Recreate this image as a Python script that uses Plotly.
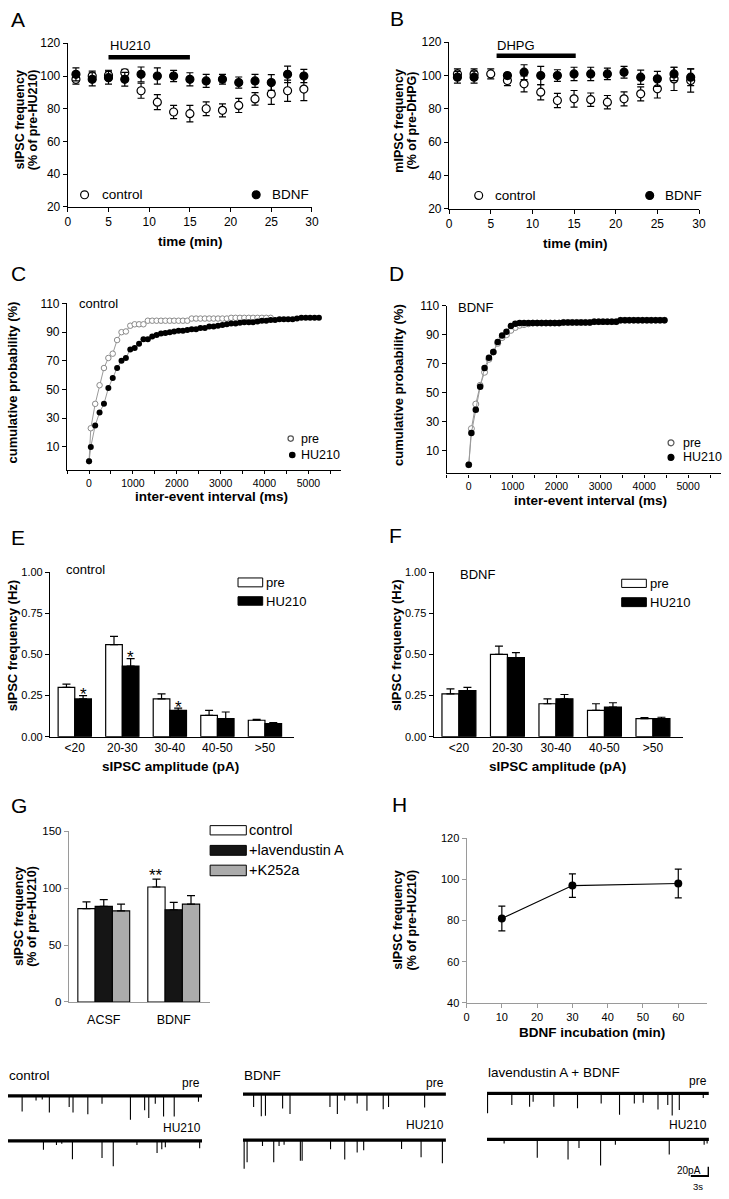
import plotly.graph_objects as go

W, H = 729, 1199
FONT = "Liberation Sans, Arial, Helvetica, sans-serif"

# ---------------- data ----------------
# A / B : time course
time_min = [1, 3, 5, 7, 9, 11, 13, 15, 17, 19, 21, 23, 25, 27, 29]
a_control = [98, 100, 100.5, 102, 91, 84, 78, 77, 80, 79, 82, 86, 89, 91, 92]
a_control_sem = [3, 3, 3, 2, 4.6, 4.6, 4, 5, 4.2, 4, 4.3, 3.8, 6.3, 6.5, 7]
a_bdnf = [101, 98, 99, 98, 101, 100, 100, 98, 97, 98, 96, 97, 96, 101, 100]
a_bdnf_sem = [4, 4, 4, 4.2, 4.5, 5, 3.4, 4, 4, 3, 3.4, 4, 4.8, 5, 4]
hu210_period_min = [5, 15]

b_control = [101, 101, 101, 97, 95, 90, 85, 86, 85.5, 84, 86, 89, 92, 98, 97]
b_control_sem = [3, 3, 3, 3, 4.8, 4.6, 4.3, 5, 4, 4, 4.2, 4.2, 5.5, 7, 7]
b_bdnf = [99, 99, None, 100, 102, 100, 100, 101, 101, 101, 102, 99, 98, 101, 99]
b_bdnf_sem = [3.5, 3.6, 0, 1.5, 4.5, 5.5, 3.5, 4, 4, 3.5, 3.5, 4.3, 4.5, 4, 5]
dhpg_period_min = [5.7, 15.2]

# C : cumulative probability, control slices
c_pre_ms = [0, 40, 140, 240, 340, 440, 540, 640, 740, 840, 940, 1040, 1140, 1240,
            1340, 1440, 1540, 1640, 1740, 1840, 1940, 2040, 2140, 2240,
            2340, 2440, 2540, 2640, 2740, 2840, 2940, 3040, 3140,
            3240, 3340, 3440, 3540, 3640, 3740, 3840, 3940, 4040, 4140]
c_pre = [0, 23, 40, 53, 65, 72, 75, 84.5, 90, 90.5, 94.5, 95.5, 95.5, 95.5,
         98, 98, 98, 98, 98, 98, 98, 98, 98, 98,
         99.5, 99.5, 99.5, 99.5, 99.5, 99.5, 99.5, 99.5, 99.5,
         100, 100, 100, 100, 100, 100, 100, 100, 100, 100]
c_hu_ms = [0, 40, 140, 240, 340, 440, 540, 640, 740, 840, 940, 1040, 1140, 1240,
           1340, 1440, 1540, 1640, 1740, 1840, 1940, 2040, 2140, 2240, 2340,
           2440, 2540, 2640, 2740, 2840, 2940, 3040, 3140, 3240, 3340, 3440,
           3540, 3640, 3740, 3840, 3940, 4040, 4140, 4240, 4340, 4440, 4540,
           4640, 4740, 4840, 4940, 5040, 5140, 5240]
c_hu = [0, 10, 25, 34, 40, 51, 58, 65, 70, 72, 78, 79, 82, 85,
        85, 87, 88, 89, 89.5, 90, 90.5, 91, 91, 91.5, 92,
        92, 93, 93, 94, 94, 94.5, 95, 95.5, 96, 96, 96.5,
        97, 97, 97, 97.5, 98, 98, 98.5, 98.5, 99, 99, 99,
        99, 99.5, 100, 100, 100, 100, 100]

# D : cumulative probability, BDNF slices
d_ms = [0, 60, 160, 260, 360, 460, 560, 660, 760, 860, 960, 1060, 1160,
        1260, 1360, 1460, 1560, 1660, 1760, 1860, 1960, 2060,
        2160, 2260, 2360, 2460, 2560, 2660, 2760,
        2860, 2960, 3060, 3160, 3260, 3360,
        3460, 3560, 3660, 3760, 3860, 3960, 4060, 4160, 4260, 4360, 4460]
d_pre = [0, 25, 42, 55, 64, 73, 78, 84, 88, 90, 93, 95, 96.5,
         97, 97.5, 98, 98, 98, 98, 98, 98, 98,
         98.5, 98.5, 98.5, 98.5, 98.5, 98.5, 98.5,
         99, 99, 99, 99, 99, 99,
         100, 100, 100, 100, 100, 100, 100, 100, 100, 100, 100]
d_hu = [0, 22, 38, 54, 67, 74, 78, 85, 89.5, 92, 96, 97.5, 98,
        98, 98, 98, 98, 98, 98, 98, 98, 98,
        98.5, 98.5, 98.5, 98.5, 98.5, 98.5, 98.5,
        99, 99, 99, 99, 99, 99,
        100, 100, 100, 100, 100, 100, 100, 100, 100, 100, 100]

# E / F : amplitude distribution
amp_bins = ["<20", "20-30", "30-40", "40-50", ">50"]
e_pre = [0.30, 0.56, 0.23, 0.13, 0.10]
e_pre_sem = [0.02, 0.05, 0.03, 0.03, 0.006]
e_hu = [0.23, 0.43, 0.16, 0.11, 0.08]
e_hu_sem = [0.02, 0.045, 0.014, 0.04, 0.006]
e_signif = ["<20", "20-30", "30-40"]

f_pre = [0.26, 0.50, 0.20, 0.16, 0.11]
f_pre_sem = [0.03, 0.05, 0.03, 0.04, 0.006]
f_hu = [0.28, 0.48, 0.23, 0.18, 0.11]
f_hu_sem = [0.02, 0.03, 0.026, 0.026, 0.008]

# G : inhibitors
g_groups = ["ACSF", "BDNF"]
g_control = [82, 101]
g_control_sem = [6, 7]
g_lav = [84, 81]
g_lav_sem = [6, 6.5]
g_k252a = [80, 86]
g_k252a_sem = [6, 7.5]

# H : incubation time
h_incubation_min = [10, 30, 60]
h_freq = [81, 97, 98]
h_sem = [6, 5.7, 7]

# example recordings: event times (s) and amplitudes (pA)
rec_duration_s = {"control": 32.8, "BDNF": 34.3, "lav": 37.5}
ctrl_pre_t = [2.4, 4.75, 5.8, 7.0, 10.35, 11.0, 13.5, 15.9, 20.7, 23.1, 23.8, 24.9, 26.3, 28.1, 32.2]
ctrl_pre_amp = [34, 10, 8, 36, 24, 36, 40, 17, 52, 31, 48, 17, 45, 45, 13]
ctrl_hu_t = [6.0, 8.2, 9.1, 10.9, 15.9, 17.8, 21.8, 25.2, 26.0, 26.6, 32.4]
ctrl_hu_amp = [19, 9, 6, 40, 37, 55, 9, 26, 18, 14, 16]
bdnf_pre_t = [1.8, 3.1, 3.8, 6.7, 7.95, 14.7, 15.95, 17.2, 19.3, 20.95, 23.7, 24.6, 30.7]
bdnf_pre_amp = [28, 48, 47, 31, 43, 28, 43, 14, 20, 36, 33, 28, 29]
bdnf_hu_t = [0.2, 0.7, 3.3, 5.2, 6.1, 6.95, 9.7, 10.0, 14.8, 17.2, 19.3, 20.4, 26.8, 30.1, 33.7]
bdnf_hu_amp = [62, 48, 13, 48, 13, 10, 45, 45, 20, 42, 27, 22, 19, 37, 50]
lav_pre_t = [0.1, 4.2, 7.2, 7.8, 11.3, 15.3, 19.3, 22.4, 24.9, 26.4, 28.9, 30.55, 31.3, 32.5, 36.55]
lav_pre_amp = [43, 25, 29, 18, 29, 32, 22, 46, 22, 20, 35, 25, 48, 36, 10]
lav_hu_t = [2.9, 8.5, 13.7, 15.55, 19.2, 21.7, 30.8, 36.7, 37.2]
lav_hu_amp = [9, 40, 44, 19, 57, 12, 33, 12, 9]
scale_pA = 20
scale_s = 3

# ---------------- helpers ----------------
def dom_x(a, b):
    return [a / W, b / W]


def dom_y(top, bot):
    return [1 - bot / H, 1 - top / H]


def axis(dom, rng, anchor, color="black", lw=1.3, ticklen=4, tickfont=12, **kw):
    d = dict(domain=dom, range=rng, anchor=anchor, showline=True, linecolor=color,
             linewidth=lw, ticks="outside", ticklen=ticklen, tickwidth=lw, tickcolor=color,
             tickfont=dict(family=FONT, size=tickfont, color="black"), showgrid=False,
             zeroline=False, fixedrange=True)
    d.update(kw)
    return d


annotations = []
shapes = []


def txt(s, x, y, size=13, bold=False, xanchor="center", yanchor="middle", angle=0):
    annotations.append(dict(text=f"<b>{s}</b>" if bold else s, x=x / W, y=1 - y / H,
                            xref="paper", yref="paper", showarrow=False, xanchor=xanchor,
                            yanchor=yanchor, textangle=angle, borderpad=0,
                            font=dict(family=FONT, size=size, color="black")))


def circle(cx, cy, d, fill, line="black", lw=1.2):
    shapes.append(dict(type="circle", xref="paper", yref="paper",
                       x0=(cx - d / 2) / W, x1=(cx + d / 2) / W,
                       y0=1 - (cy + d / 2) / H, y1=1 - (cy - d / 2) / H,
                       fillcolor=fill, line=dict(color=line, width=lw)))


def rect(x0, x1, y0, y1, fill):
    shapes.append(dict(type="rect", xref="paper", yref="paper", x0=x0 / W, x1=x1 / W,
                       y0=1 - y1 / H, y1=1 - y0 / H, fillcolor=fill,
                       line=dict(color="black", width=1)))


fig = go.Figure()
layout = {}


def err(arr, up_only=False, width=3.5):
    d = dict(type="data", array=arr, color="black", thickness=1.2, width=width, visible=True)
    if up_only:
        d.update(symmetric=False, arrayminus=[0] * len(arr))
    return d


# ---------------- A ----------------
for ys, es, fill in [(a_control, a_control_sem, "white"), (a_bdnf, a_bdnf_sem, "black")]:
    fig.add_trace(go.Scatter(x=time_min, y=ys, mode="markers", xaxis="x", yaxis="y",
                             error_y=err(es),
                             marker=dict(size=8, color=fill, line=dict(color="black", width=1.2))))
layout["xaxis"] = axis(dom_x(65.7, 313.3), [0, 30], "y", tickvals=[0, 5, 10, 15, 20, 25, 30])
layout["yaxis"] = axis(dom_y(36.7, 202.3), [20, 120], "x", tickvals=[20, 40, 60, 80, 100, 120])
shapes.append(dict(type="line", xref="x", yref="y", x0=hu210_period_min[0], x1=hu210_period_min[1],
                   y0=111.5, y1=111.5, line=dict(color="black", width=4.5)))
annotations.append(dict(text="HU210", x=hu210_period_min[0], y=118.6, xref="x", yref="y",
                        showarrow=False, xanchor="left", yanchor="middle",
                        font=dict(family=FONT, size=13, color="black")))

# ---------------- B ----------------
for ys, es, fill in [(b_control, b_control_sem, "white"), (b_bdnf, b_bdnf_sem, "black")]:
    fig.add_trace(go.Scatter(x=time_min, y=ys, mode="markers", xaxis="x2", yaxis="y2",
                             error_y=err(es),
                             marker=dict(size=8, color=fill, line=dict(color="black", width=1.2))))
layout["xaxis2"] = axis(dom_x(452.3, 705.7), [0, 30], "y2", tickvals=[0, 5, 10, 15, 20, 25, 30])
layout["yaxis2"] = axis(dom_y(35.7, 204), [20, 120], "x2", tickvals=[20, 40, 60, 80, 100, 120])
shapes.append(dict(type="line", xref="x2", yref="y2", x0=dhpg_period_min[0], x1=dhpg_period_min[1],
                   y0=111.9, y1=111.9, line=dict(color="black", width=4.5)))
annotations.append(dict(text="DHPG", x=5.5, y=118, xref="x2", yref="y2",
                        showarrow=False, xanchor="left", yanchor="middle",
                        font=dict(family=FONT, size=13, color="black")))

# ---------------- C / D ----------------
cum_ticks = [-500, 0, 500, 1000, 1500, 2000, 2500, 3000, 3500, 4000, 4500, 5000, 5500]
cum_text = ["", "0", "", "1000", "", "2000", "", "3000", "", "4000", "", "5000", ""]
for (xa, ya, xp, yp, xh, yh, s_open, s_fill) in [
        ("x3", "y3", c_pre_ms, c_pre, c_hu_ms, c_hu, 5.5, 6),
        ("x4", "y4", d_ms, d_pre, d_ms, d_hu, 6, 6.5)]:
    fig.add_trace(go.Scatter(x=xp, y=yp, mode="lines+markers", xaxis=xa, yaxis=ya,
                             line=dict(color="#9a9a9a", width=1),
                             marker=dict(size=s_open, color="white", line=dict(color="#8a8a8a", width=1))))
    fig.add_trace(go.Scatter(x=xh, y=yh, mode="lines+markers", xaxis=xa, yaxis=ya,
                             line=dict(color="#9a9a9a", width=1),
                             marker=dict(size=s_fill, color="black", line=dict(width=0))))
layout["xaxis3"] = axis(dom_x(65, 343), [-500, 5750], "y3", ticklen=3, tickfont=10.5,
                        tickvals=cum_ticks, ticktext=cum_text)
layout["yaxis3"] = axis(dom_y(300, 468.3), [-6, 110], "x3", tickvals=[10, 30, 50, 70, 90, 110])
layout["xaxis4"] = axis(dom_x(450, 728), [-500, 5750], "y4", ticklen=3, tickfont=10.5,
                        tickvals=cum_ticks, ticktext=cum_text)
layout["yaxis4"] = axis(dom_y(302.3, 472), [-6, 110], "x4", tickvals=[10, 30, 50, 70, 90, 110])

# ---------------- E / F ----------------
BW = 0.35
for (xa, ya, pre, pre_s, hu, hu_s) in [("x5", "y5", e_pre, e_pre_sem, e_hu, e_hu_sem),
                                        ("x6", "y6", f_pre, f_pre_sem, f_hu, f_hu_sem)]:
    fig.add_trace(go.Bar(x=amp_bins, y=pre, xaxis=xa, yaxis=ya, width=BW, offset=-BW,
                         marker=dict(color="white", line=dict(color="black", width=1.2)),
                         error_y=err(pre_s, up_only=True, width=4)))
    fig.add_trace(go.Bar(x=amp_bins, y=hu, xaxis=xa, yaxis=ya, width=BW, offset=0,
                         marker=dict(color="black", line=dict(color="black", width=1.2)),
                         error_y=err(hu_s, up_only=True, width=4)))
for k, (xd, yd) in enumerate([((47.7, 295), (572, 738.3)), ((436.7, 689), (571.7, 738.3))]):
    n = 5 + k
    layout[f"xaxis{n}"] = axis(dom_x(*xd), [-0.52, 4.61], f"y{n}", ticks="", tickfont=12,
                               type="category", categoryorder="array", categoryarray=amp_bins)
    layout[f"yaxis{n}"] = axis(dom_y(*yd), [0, 1.0], f"x{n}", tickfont=11,
                               tickvals=[0, 0.25, 0.5, 0.75, 1.0], tickformat=".2f")
for b in e_signif:
    i = amp_bins.index(b)
    annotations.append(dict(text="*", x=b, y=e_hu[i] + e_hu_sem[i], xref="x5", yref="y5",
                            showarrow=False, xanchor="center", yanchor="middle",
                            xshift=8.5, yshift=1, font=dict(family=FONT, size=17, color="black")))

# ---------------- G ----------------
GW = 0.247
for ys, es, col, off in [(g_control, g_control_sem, "white", -1.5 * GW),
                         (g_lav, g_lav_sem, "#151515", -0.5 * GW),
                         (g_k252a, g_k252a_sem, "#ababab", 0.5 * GW)]:
    fig.add_trace(go.Bar(x=g_groups, y=ys, xaxis="x7", yaxis="y7", width=GW, offset=off,
                         marker=dict(color=col, line=dict(color="black", width=1.1)),
                         error_y=err(es, up_only=True, width=4)))
layout["xaxis7"] = axis(dom_x(66.7, 210), [-0.5, 1.52], "y7", color="#9a9a9a", lw=1, ticks="",
                        tickfont=12.5, type="category", categoryorder="array",
                        categoryarray=g_groups, ticklabelstandoff=6)
layout["yaxis7"] = axis(dom_y(834, 1006.7), [0, 150], "x7", color="#9a9a9a", lw=1, tickfont=11.5,
                        tickvals=[0, 50, 100, 150])
annotations.append(dict(text="**", x="BDNF", y=g_control[1] + g_control_sem[1], xref="x7",
                        yref="y7", showarrow=False, xanchor="center", yanchor="middle",
                        xshift=-17.5, yshift=4, font=dict(family=FONT, size=17, color="black")))

# ---------------- H ----------------
fig.add_trace(go.Scatter(x=h_incubation_min, y=h_freq, mode="lines+markers", xaxis="x8", yaxis="y8",
                         line=dict(color="black", width=1.2), error_y=err(h_sem),
                         marker=dict(size=8, color="black")))
layout["xaxis8"] = axis(dom_x(470, 714), [0, 68.2], "y8", color="#9a9a9a", lw=1, tickfont=11,
                        tickvals=[0, 10, 20, 30, 40, 50, 60])
layout["yaxis8"] = axis(dom_y(841, 1007.7), [40, 120], "x8", color="#9a9a9a", lw=1, tickfont=11,
                        tickvals=[40, 60, 80, 100, 120])

# ---------------- example traces ----------------
PX_PER_S = 6.0
PX_PER_PA = 9.33 / 20
recs = [
    (ctrl_pre_t, ctrl_pre_amp, rec_duration_s["control"], 5, 1101.7, 70),
    (ctrl_hu_t, ctrl_hu_amp, rec_duration_s["control"], 5, 1147.3, 70),
    (bdnf_pre_t, bdnf_pre_amp, rec_duration_s["BDNF"], 243.3, 1100, 70),
    (bdnf_hu_t, bdnf_hu_amp, rec_duration_s["BDNF"], 243.3, 1146.5, 70),
    (lav_pre_t, lav_pre_amp, rec_duration_s["lav"], 490.7, 1099.3, 70),
    (lav_hu_t, lav_hu_amp, rec_duration_s["lav"], 490.7, 1145.7, 84),
]
for k, (ts, amps, dur, left, base, depth) in enumerate(recs):
    n = 9 + k
    xs, ys = [], []
    for t, a in zip(ts, amps):
        xs += [t, t, None]
        ys += [0, -a, None]
    fig.add_trace(go.Scatter(x=[0, dur], y=[0, 0], mode="lines", xaxis=f"x{n}", yaxis=f"y{n}",
                             line=dict(color="black", width=3.2)))
    fig.add_trace(go.Scatter(x=xs, y=ys, mode="lines", xaxis=f"x{n}", yaxis=f"y{n}",
                             line=dict(color="black", width=1.1), cliponaxis=False))
    layout[f"xaxis{n}"] = dict(domain=dom_x(left, left + dur * PX_PER_S), range=[0, dur],
                               anchor=f"y{n}", visible=False, fixedrange=True)
    layout[f"yaxis{n}"] = dict(domain=dom_y(base - 5 * PX_PER_PA, base + depth * PX_PER_PA),
                               range=[-depth, 5], anchor=f"x{n}", visible=False, fixedrange=True)
# scale bar in the last recording's axes
sb_t, sb_y = rec_duration_s["lav"] - 0.05, -79.3
fig.add_trace(go.Scatter(x=[sb_t - scale_s, sb_t, sb_t], y=[sb_y, sb_y, sb_y + scale_pA],
                         mode="lines", xaxis="x14", yaxis="y14", cliponaxis=False,
                         line=dict(color="black", width=2)))

# ---------------- text ----------------
for s, x, y in [("A", 7, 12.7), ("B", 391, 11.7), ("C", 7, 270), ("D", 390, 270),
                ("E", 7, 537), ("F", 390, 535), ("G", 7, 808), ("H", 393, 807)]:
    txt(s, x, y, size=21, xanchor="left")

# axis titles
txt("time (min)", 190, 237, 13.5, True)
txt("time (min)", 580, 239, 13.5, True)
txt("inter-event interval (ms)", 211, 495, 13.5, True)
txt("inter-event interval (ms)", 596, 499, 13.5, True)
txt("sIPSC amplitude (pA)", 170, 768, 13.5, True)
txt("sIPSC amplitude (pA)", 562, 768, 13.5, True)
txt("BDNF incubation (min)", 597, 1038, 13.5, True)

txt("sIPSC frequency", 17, 114, 12.5, True, angle=-90)
txt("(% of pre-HU210)", 30, 114, 12.5, True, angle=-90)
txt("mIPSC frequency", 401.5, 115, 12.5, True, angle=-90)
txt("(% of pre-DHPG)", 414.5, 115, 12.5, True, angle=-90)
txt("cumulative probability (%)", 10, 380, 13, True, angle=-90)
txt("cumulative probability (%)", 401, 382, 13, True, angle=-90)
txt("sIPSC frequency (Hz)", 10, 646, 13, True, angle=-90)
txt("sIPSC frequency (Hz)", 399, 646, 13, True, angle=-90)
txt("sIPSC frequency", 16, 920, 12.5, True, angle=-90)
txt("(% of pre-HU210)", 30, 920, 12.5, True, angle=-90)
txt("sIPSC frequency", 401, 924, 12.5, True, angle=-90)
txt("(% of pre-HU210)", 415, 924, 12.5, True, angle=-90)

# pseudo-legends A/B
circle(82.7, 190, 8, "white")
txt("control", 99, 190, 13.5, xanchor="left")
circle(256.7, 190, 8, "black")
txt("BDNF", 272, 190, 13.5, xanchor="left")
circle(482.3, 190.7, 8, "white")
txt("control", 498, 190.7, 13.5, xanchor="left")
circle(655.7, 190.7, 8, "black")
txt("BDNF", 670, 190.7, 13.5, xanchor="left")
# C/D
txt("control", 76, 300, 13, xanchor="left")
circle(291.7, 436.7, 5.5, "white", "#555")
txt("pre", 301, 436.7, 12.5, xanchor="left")
circle(293.3, 453.3, 5.5, "black")
txt("HU210", 301, 453.3, 12.5, xanchor="left")
txt("BDNF", 460, 304, 13, xanchor="left")
circle(677.3, 441, 6, "white", "#555")
txt("pre", 688, 441, 12.5, xanchor="left")
circle(677.3, 455.7, 6, "black")
txt("HU210", 688, 455.7, 12.5, xanchor="left")
# E/F
txt("control", 63, 569, 13, xanchor="left")
rect(238.3, 263.3, 577.7, 586.7, "white")
txt("pre", 266, 582.7, 13, xanchor="left")
rect(238.3, 263.3, 596.7, 605.3, "black")
txt("HU210", 266, 601.7, 13, xanchor="left")
txt("BDNF", 462, 574, 13, xanchor="left")
rect(627.3, 652.3, 579, 587.3, "white")
txt("pre", 654.5, 583.3, 13, xanchor="left")
rect(627.3, 652.3, 597.7, 606.7, "black")
txt("HU210", 654.5, 602.3, 13, xanchor="left")
# G
rect(210, 246.7, 828.3, 837.7, "white")
txt("control", 248, 833, 14.5, xanchor="left")
rect(210, 246.7, 848.3, 858.3, "#151515")
txt("+lavendustin A", 248, 853, 14.5, xanchor="left")
rect(210, 246.7, 868.3, 879, "#ababab")
txt("+K252a", 248, 873.5, 14.5, xanchor="left")

# recordings labels
txt("control", 5, 1080.7, 13.5, xanchor="left")
txt("pre", 201, 1088.3, 12, xanchor="right")
txt("HU210", 202, 1134, 12, xanchor="right")
txt("BDNF", 243, 1080.7, 13.5, xanchor="left")
txt("pre", 448, 1088.3, 12, xanchor="right")
txt("HU210", 448, 1131, 12, xanchor="right")
txt("lavendustin A + BDNF", 490.5, 1078.3, 13.5, xanchor="left")
txt("pre", 715, 1086.7, 12, xanchor="right")
txt("HU210", 715, 1131, 12, xanchor="right")
txt("20pA", 709, 1177.7, 10, xanchor="right")
txt("3s", 705, 1193, 9.5)

layout.update(width=W, height=H, margin=dict(l=0, r=0, t=0, b=0), showlegend=False,
              paper_bgcolor="white", plot_bgcolor="white", annotations=annotations,
              shapes=shapes, barmode="overlay", font=dict(family=FONT, color="black"))
fig.update_layout(**layout)
fig.write_html("out.html", config={"displayModeBar": False},
               post_script="document.body.style.margin='0';document.body.style.overflow='hidden';")
